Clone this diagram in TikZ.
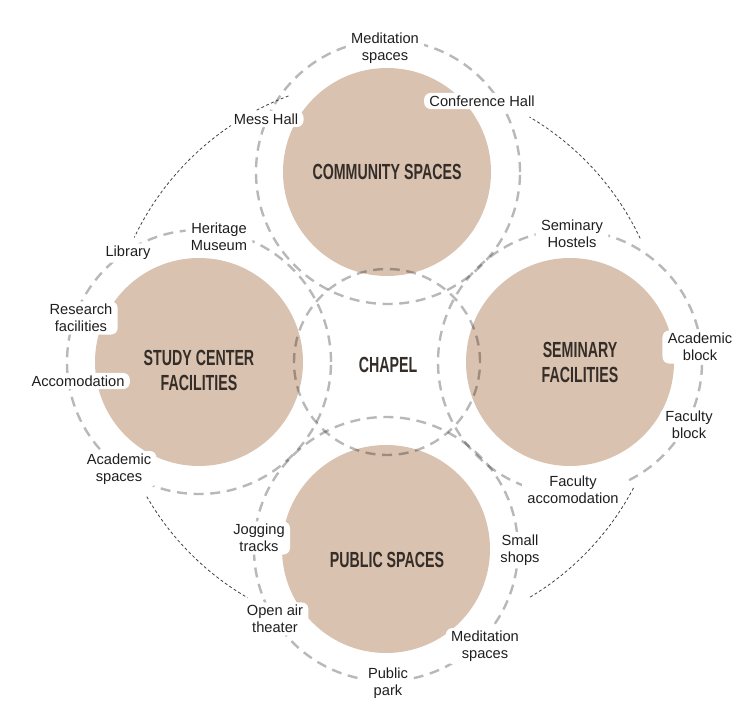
\documentclass[tikz,border=0pt]{standalone}
\usepackage{fontspec}
\setmainfont{Liberation Sans}
\newfontfamily\headfont[FakeStretch=0.65]{Liberation Sans}
\definecolor{tan}{HTML}{D9C2B0}
\definecolor{headc}{HTML}{352D28}
\begin{document}
\begin{tikzpicture}[x=0.75pt,y=-0.75pt,
  blob/.style={circle, fill=tan, minimum size=156pt, inner sep=0pt},
  head/.style={font=\headfont\bfseries\fontsize{16.4}{18.75}\selectfont, text=headc, align=center, inner sep=0pt},
  ring/.style={circle, draw=black, draw opacity=0.28, line width=1.8pt, dash pattern=on 7.5pt off 5pt, minimum size=198pt, inner sep=0pt},
  chapelring/.style={ring, minimum size=139.5pt},
  outerarc/.style={draw=black!75, line width=0.6pt, dash pattern=on 2.2pt off 1.8pt},
  lbl/.style={fill=white, rounded corners=5pt, inner xsep=4pt, inner ysep=2pt, align=center, font=\fontsize{11}{12.75}\selectfont, text=black!88}
]
\useasboundingbox (0,0) rectangle (752,713);
% filled circles
\node[blob] (comm) at (387,172) {};
\node[blob] (study) at (199,362) {};
\node[blob] (sem) at (570,362) {};
\node[blob] (pub) at (386,549) {};
% dashed rings
\node[ring] (commring) at (388,172) {};
\node[ring] (studyring) at (199,362) {};
\node[ring] (semring) at (570,362) {};
\node[ring] (pubring) at (386,549) {};
\node[chapelring] (chapelring) at (387,362) {};
% outer thin dashed arcs
\coordinate (O) at (387,358);
\draw[outerarc] (O) ++(110.6:210pt) arc[start angle=110.6, end angle=154.5, radius=210pt];
\draw[outerarc] (O) ++(25.3:210pt) arc[start angle=25.3, end angle=59.4, radius=210pt];
\draw[outerarc] (O) ++(210:208pt) arc[start angle=210, end angle=239.8, radius=208pt];
\draw[outerarc] (O) ++(300.9:209pt) arc[start angle=300.9, end angle=332.5, radius=209pt];
% labels
\node[lbl] (l1) at (385,48) {Meditation\\spaces};
\node[lbl] (l2) at (482,101) {Conference Hall};
\node[lbl] (l3) at (266,119) {Mess Hall};
\node[lbl] (l4) at (219,237) {Heritage\\Museum};
\node[lbl] (l5) at (128,253) {Library};
\node[lbl] (l6) at (81,318) {Research\\facilities};
\node[lbl] (l7) at (78,381) {Accomodation};
\node[lbl] (l8) at (119,469) {Academic\\spaces};
\node[lbl] (l9) at (572,234) {Seminary\\Hostels};
\node[lbl] (l10) at (700,347) {Academic\\block};
\node[lbl] (l11) at (689,425) {Faculty\\block};
\node[lbl] (l12) at (573,490) {Faculty\\accomodation};
\node[lbl] (l13) at (259,538) {Jogging\\tracks};
\node[lbl] (l14) at (520,550) {Small\\shops};
\node[lbl] (l15) at (275,619) {Open air\\theater};
\node[lbl] (l16) at (485,646) {Meditation\\spaces};
\node[lbl] (l17) at (388,683) {Public\\park};
% headings
\node[head] (h1) at (387,172) {COMMUNITY SPACES};
\node[head] (h2) at (199,370) {STUDY CENTER\\FACILITIES};
\node[head] (h3) at (580,362) {SEMINARY\\FACILITIES};
\node[head] (h4) at (387,560) {PUBLIC SPACES};
\node[head] (h5) at (388,365) {CHAPEL};
\end{tikzpicture}
\end{document}
